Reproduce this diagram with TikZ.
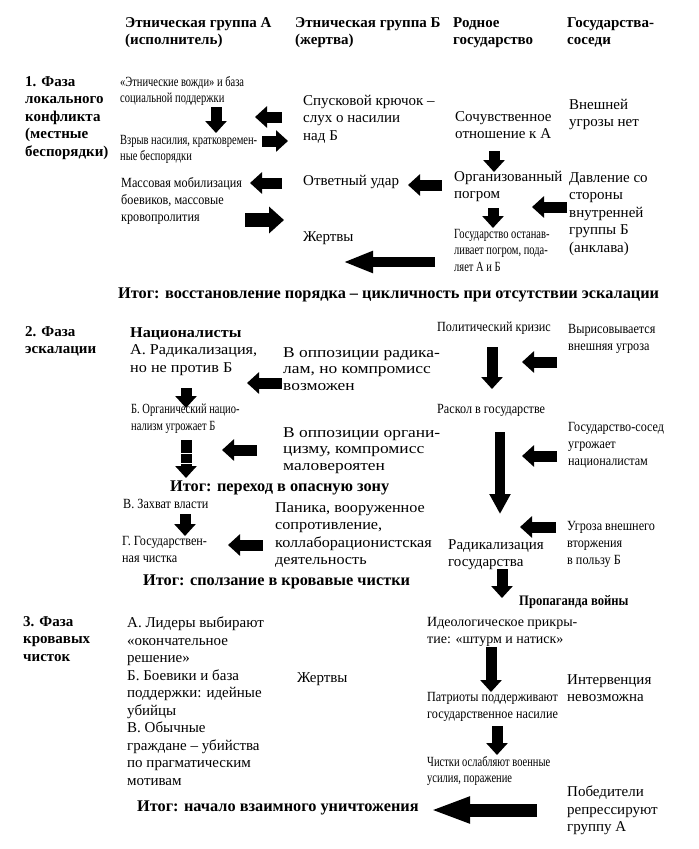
\documentclass[tikz,border=0pt]{standalone}
\usepackage{fontspec}
\setmainfont{Liberation Serif}
\newfontfamily\narrowfont[FakeStretch=0.75]{Liberation Serif}
\newfontfamily\semifont[FakeStretch=0.87]{Liberation Serif}
\newfontfamily\roomyfont[FakeStretch=1.08]{Liberation Serif}
\newfontfamily\widefont[FakeStretch=1.16]{Liberation Serif}
\usetikzlibrary{arrows.meta}
\def\blockarrow[#1](#2)(#3)(#4){\coordinate (#2s) at (#3); \coordinate (#2e) at (#4); \draw[#1] (#2s) -- (#2e);}

\begin{document}
\begin{tikzpicture}[x=1pt, y=-1pt,
	hdr/.style={font=\bfseries\fontsize{15}{17.5}\selectfont, align=left, anchor=north west, inner sep=0pt},
	total/.style={font=\bfseries\fontsize{16.3}{19}\selectfont, align=left, anchor=north west, inner sep=0pt},
	txt/.style={font=\fontsize{15}{17.5}\selectfont, align=left, anchor=north west, inner sep=0pt},
	roomy/.style={txt, font=\roomyfont\fontsize{15}{17.5}\selectfont},
	wide/.style={txt, font=\widefont\fontsize{15}{16.5}\selectfont},
	semi/.style={txt, font=\semifont\fontsize{14}{17}\selectfont},
	nrw/.style={txt, font=\narrowfont\fontsize{14}{16.5}\selectfont},
	fatarrow/.style={line width=11pt, -{Triangle[length=12pt,width=21pt]}},
	wideyarrow/.style={line width=14pt, -{Triangle[length=15pt,width=26pt]}},
	longarrow/.style={line width=10pt, -{Triangle[length=20pt,width=20pt]}},
	bigarrow/.style={line width=10pt, -{Triangle[length=30pt,width=20pt]}},
	hugearrow/.style={line width=13pt, -{Triangle[length=40pt,width=24pt]}}]
	%%%%% START %%%%%
	\fill[white] (0,0) rectangle (699,849);
	\useasboundingbox (0,0) rectangle (699,849);
	
	\node[hdr] (hA) at (125,17) {Этническая группа А\\(исполнитель)};
	\node[hdr] (hB) at (295,17) {Этническая группа Б\\(жертва)};
	\node[hdr] (hS) at (453,17) {Родное\\государство};
	\node[hdr] (hN) at (567,17) {Государства-\\соседи};
	
	%%%%% PHASE 1 %%%%%
	\node[hdr] (f1) at (25,76) {1. Фаза\\локального\\конфликта\\(местные\\беспорядки)};
	\node[nrw] (a11) at (120,76) {«Этнические вожди» и база\\социальной поддержки};
	\node[nrw] (a12) at (120,135) {Взрыв насилия, кратковремен-\\ные беспорядки};
	\node[semi] (a13) at (121,177) {Массовая мобилизация\\боевиков, массовые\\кровопролития};
	\node[txt] (b11) at (303,95) {Спусковой крючок –\\слух о насилии\\над Б};
	\node[txt] (b12) at (303,175) {Ответный удар};
	\node[txt] (b13) at (303,231) {Жертвы};
	\node[txt] (s11) at (455,111) {Сочувственное\\отношение к А};
	\node[txt] (s12) at (454,171) {Организованный\\погром};
	\node[nrw] (s13) at (454,229) {Государство останав-\\ливает погром, пода-\\ляет А и Б};
	\node[txt] (n11) at (569,99) {Внешней\\угрозы нет};
	\node[txt] (n12) at (569,172) {Давление со\\стороны\\внутренней\\группы Б\\(анклава)};
	\node[total] (r1) at (118,288) {Итог: восстановление порядка – цикличность при отсутствии эскалации};
	
	\blockarrow[fatarrow](d1)(216,107)(216,133)
	\blockarrow[fatarrow](l1)(282,117)(255,117)
	\blockarrow[fatarrow](l2)(262,141)(288,141)
	\blockarrow[fatarrow](l3)(282,183)(250,183)
	\blockarrow[wideyarrow](l4)(245,220)(284,220)
	\blockarrow[fatarrow](l5)(442,185)(408,185)
	\blockarrow[fatarrow](d2)(494,151)(494,172)
	\blockarrow[fatarrow](d3)(493,208)(493,228)
	\blockarrow[fatarrow](l6)(567,207)(532,207)
	\blockarrow[bigarrow](l7)(435,262)(343,262)
	
	%%%%% PHASE 2 %%%%%
	\node[hdr] (f2) at (25,326) {2. Фаза\\эскалации};
	\node[roomy] (a21) at (130,327) {\textbf{Националисты}\\А. Радикализация,\\но не против Б};
	\node[nrw] (a22) at (131,404) {Б. Органический нацио-\\нализм угрожает Б};
	\node[wide] (b21) at (283,347) {В оппозиции радика-\\лам, но компромисс\\возможен};
	\node[wide] (b22) at (283,427) {В оппозиции органи-\\цизму, компромисс\\маловероятен};
	\node[total] (r2) at (170,481) {Итог: переход в опасную зону};
	\node[semi] (a23) at (123,499) {В. Захват власти};
	\node[semi] (a24) at (122,536) {Г. Государствен-\\ная чистка};
	\node[roomy] (b23) at (275,502) {Паника, вооруженное\\сопротивление,\\коллаборационистская\\деятельность};
	\node[total] (r3) at (143,575) {Итог: сползание в кровавые чистки};
	\node[semi] (s21) at (437,322) {Политический кризис};
	\node[semi] (s22) at (437,404) {Раскол в государстве};
	\node[txt] (s23) at (448,539) {Радикализация\\государства};
	\node[semi, font=\semifont\bfseries\fontsize{14.5}{17}\selectfont] (s24) at (519,595) {Пропаганда войны};
	\node[semi] (n21) at (568,324) {Вырисовывается\\внешняя угроза};
	\node[semi] (n22) at (568,422) {Государство-сосед\\угрожает\\националистам};
	\node[semi] (n23) at (567,521) {Угроза внешнего\\вторжения\\в пользу Б};
	
	\blockarrow[fatarrow](d4)(186,388)(186,408)
	\blockarrow[fatarrow](d5)(186,440)(186,478)
	\draw[white, line width=1pt] (178,453) -- (194,453);
	\draw[white, line width=1pt] (175,463) -- (197,463);
	\blockarrow[fatarrow](l8)(282,383)(247,383)
	\blockarrow[fatarrow](l9)(257,450)(222,450)
	\blockarrow[fatarrow](d6)(185,514)(185,536)
	\blockarrow[fatarrow](l10)(263,545)(228,545)
	\blockarrow[fatarrow](d7)(492,347)(492,389)
	\blockarrow[longarrow](d8)(500,432)(500,514)
	\blockarrow[fatarrow](d9)(502,569)(502,598)
	\blockarrow[fatarrow](l11)(557,362)(522,362)
	\blockarrow[fatarrow](l12)(557,456)(522,456)
	\blockarrow[fatarrow](l13)(556,527)(520,527)
	
	%%%%% PHASE 3 %%%%%
	\node[hdr] (f3) at (23,616) {3. Фаза\\кровавых\\чисток};
	\node[txt] (a31) at (127,617) {А. Лидеры выбирают\\«окончательное\\решение»\\Б. Боевики и база\\поддержки: идейные\\убийцы\\В. Обычные\\граждане – убийства\\по прагматическим\\мотивам};
	\node[txt] (b31) at (297,672) {Жертвы};
	\node[txt, font=\fontsize{14}{17}\selectfont] (s31) at (427,617) {Идеологическое прикры-\\тие: «штурм и натиск»};
	\node[semi] (s32) at (427,692) {Патриоты поддерживают\\государственное насилие};
	\node[nrw] (s33) at (427,756) {Чистки ослабляют военные\\усилия, поражение};
	\node[txt] (n31) at (567,674) {Интервенция\\невозможна};
	\node[txt] (n32) at (567,786) {Победители\\репрессируют\\группу А};
	\node[total] (r4) at (137,801) {Итог: начало взаимного уничтожения};
	
	\blockarrow[fatarrow](d10)(491,647)(491,692)
	\blockarrow[fatarrow](d11)(497,726)(497,755)
	\blockarrow[hugearrow](l14)(537,810)(430,810)
	%%%%% END %%%%%
\end{tikzpicture}
\end{document}
